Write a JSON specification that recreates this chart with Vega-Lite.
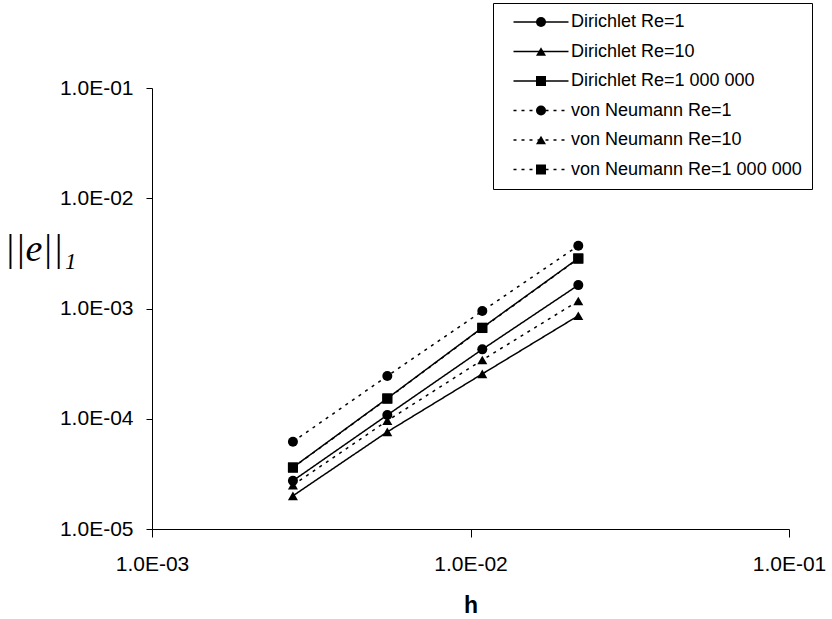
{
  "$schema": "https://vega.github.io/schema/vega-lite/v6.json",
  "width": 637,
  "height": 441,
  "autosize": "none",
  "padding": {"left": 152, "top": 88, "right": 43, "bottom": 90},
  "background": "white",
  "config": {"view": {"stroke": null}},
  "data": {
    "values": [
      {"series": "Dirichlet Re=1", "h": 0.00277, "e": 0.0000274},
      {"series": "Dirichlet Re=1", "h": 0.00548, "e": 0.000108},
      {"series": "Dirichlet Re=1", "h": 0.01089, "e": 0.000426},
      {"series": "Dirichlet Re=1", "h": 0.0218, "e": 0.00163},
      {"series": "Dirichlet Re=10", "h": 0.00277, "e": 0.0000200},
      {"series": "Dirichlet Re=10", "h": 0.00548, "e": 0.0000760},
      {"series": "Dirichlet Re=10", "h": 0.01089, "e": 0.000255},
      {"series": "Dirichlet Re=10", "h": 0.0218, "e": 0.00086},
      {"series": "Dirichlet Re=1 000 000", "h": 0.00277, "e": 0.0000362},
      {"series": "Dirichlet Re=1 000 000", "h": 0.00548, "e": 0.000153},
      {"series": "Dirichlet Re=1 000 000", "h": 0.01089, "e": 0.00067},
      {"series": "Dirichlet Re=1 000 000", "h": 0.0218, "e": 0.00285},
      {"series": "von Neumann Re=1", "h": 0.00277, "e": 0.0000619},
      {"series": "von Neumann Re=1", "h": 0.00548, "e": 0.000244},
      {"series": "von Neumann Re=1", "h": 0.01089, "e": 0.000948},
      {"series": "von Neumann Re=1", "h": 0.0218, "e": 0.00371},
      {"series": "von Neumann Re=10", "h": 0.00277, "e": 0.0000250},
      {"series": "von Neumann Re=10", "h": 0.00548, "e": 0.0000960},
      {"series": "von Neumann Re=10", "h": 0.01089, "e": 0.000341},
      {"series": "von Neumann Re=10", "h": 0.0218, "e": 0.00117},
      {"series": "von Neumann Re=1 000 000", "h": 0.00277, "e": 0.0000360},
      {"series": "von Neumann Re=1 000 000", "h": 0.00548, "e": 0.000152},
      {"series": "von Neumann Re=1 000 000", "h": 0.01089, "e": 0.000665},
      {"series": "von Neumann Re=1 000 000", "h": 0.0218, "e": 0.00283}
    ]
  },
  "encoding": {
    "x": {
      "field": "h",
      "type": "quantitative",
      "scale": {"type": "log", "domain": [0.001, 0.1], "nice": false},
      "axis": {
        "values": [0.001, 0.01, 0.1],
        "labelExpr": "'1.0E-0' + round(-log(datum.value)/LN10)",
        "labelFont": "Liberation Sans",
        "labelFontSize": 21,
        "labelColor": "black",
        "labelPadding": 16,
        "labelFlush": false,
        "labelOverlap": false,
        "tickSize": 8,
        "tickColor": "black",
        "domainColor": "black",
        "grid": false,
        "title": "h",
        "titleFont": "Liberation Sans",
        "titleFontSize": 23,
        "titleFontWeight": "bold",
        "titleColor": "black",
        "titleX": 318.5,
        "titleY": 83,
        "titleBaseline": "alphabetic",
        "titleAlign": "center"
      }
    },
    "y": {
      "field": "e",
      "type": "quantitative",
      "scale": {"type": "log", "domain": [0.00001, 0.1], "nice": false},
      "axis": {
        "values": [0.00001, 0.0001, 0.001, 0.01, 0.1],
        "labelExpr": "'1.0E-0' + round(-log(datum.value)/LN10)",
        "labelFont": "Liberation Sans",
        "labelFontSize": 21,
        "labelColor": "black",
        "labelPadding": 13,
        "labelFlush": false,
        "labelOverlap": false,
        "tickSize": 6,
        "tickColor": "black",
        "domainColor": "black",
        "grid": false,
        "title": "||e||₁",
        "titleFont": "Liberation Serif",
        "titleFontSize": 38,
        "titleFontStyle": "italic",
        "titleFontWeight": "normal",
        "titleColor": "black",
        "titleAngle": 0,
        "titleX": -112,
        "titleY": 161,
        "titleAlign": "center",
        "titleBaseline": "middle"
      }
    }
  },
  "layer": [
    {
      "mark": {"type": "line", "color": "black", "strokeWidth": 1.5},
      "encoding": {
        "detail": {"field": "series"},
        "strokeDash": {
          "field": "series",
          "type": "nominal",
          "sort": ["Dirichlet Re=1", "Dirichlet Re=10", "Dirichlet Re=1 000 000", "von Neumann Re=1", "von Neumann Re=10", "von Neumann Re=1 000 000"],
          "scale": {
            "range": [[1, 0], [1, 0], [1, 0], [3, 5], [3, 5], [3, 5]]
          },
          "legend": {
            "title": null,
            "orient": "none",
            "legendX": 341,
            "legendY": -85,
            "padding": 10,
            "strokeColor": "black",
            "fillColor": null,
            "cornerRadius": 0,
            "rowPadding": 11.5,
            "symbolType": "M-5.5,0H5.5",
            "symbolSize": 100,
            "symbolOffset": 29,
            "labelOffset": 21,
            "labelFont": "Liberation Sans",
            "labelFontSize": 18,
            "labelColor": "black",
            "labelLimit": 400,
            "symbolStrokeWidth": 1.5,
            "symbolStrokeColor": "black",
            "symbolOpacity": 1
          }
        },
        "order": {"field": "h"}
      }
    },
    {
      "mark": {"type": "point", "filled": true, "color": "black", "opacity": 1, "size": 100},
      "encoding": {
        "shape": {
          "field": "series",
          "type": "nominal",
          "scale": {
            "domain": ["Dirichlet Re=1", "Dirichlet Re=10", "Dirichlet Re=1 000 000", "von Neumann Re=1", "von Neumann Re=10", "von Neumann Re=1 000 000"],
            "range": ["circle", "triangle-up", "square", "circle", "triangle-up", "square"]
          },
          "legend": {
            "title": null,
            "orient": "none",
            "legendX": 341,
            "legendY": -85,
            "padding": 10,
            "strokeColor": null,
            "fillColor": null,
            "cornerRadius": 0,
            "rowPadding": 11.5,
            "symbolSize": 100,
            "symbolOffset": 29,
            "labelOffset": 21,
            "labelFont": "Liberation Sans",
            "labelFontSize": 18,
            "labelColor": "black",
            "labelOpacity": 0,
            "labelLimit": 400,
            "symbolFillColor": "black",
            "symbolOpacity": 1
          }
        }
      }
    }
  ]
}
